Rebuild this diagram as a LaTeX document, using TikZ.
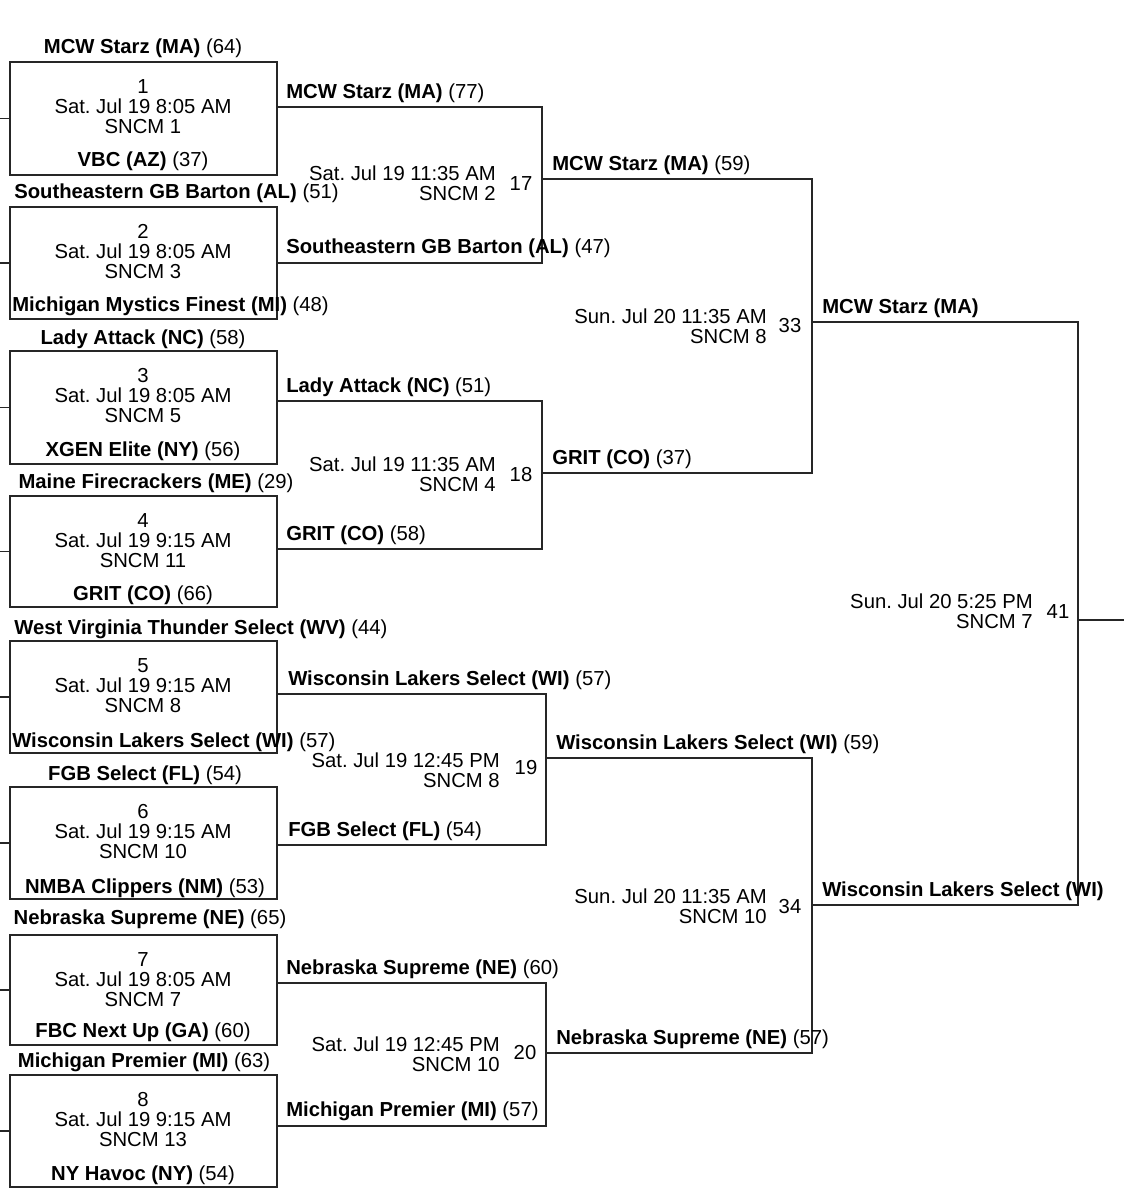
\documentclass[tikz,border=0pt]{standalone}
\usepackage{fontspec}
\setmainfont{Liberation Sans}
\frenchspacing
\begin{document}
\begin{tikzpicture}[x=0.75pt,y=-0.75pt,
  every node/.style={font=\fontsize{15.2}{15}\selectfont, inner sep=0pt},
  ln/.style={line width=1.1pt, color=black!85},
  info/.style={align=right, anchor=east},
  team/.style={anchor=south west}]
\useasboundingbox (0,0) rectangle (1124,1200);
% round 1 boxes
\foreach \i/\t/\b/\d/\s in {1/62/175/8:05 AM/1, 2/207/319/8:05 AM/3, 3/351/464/8:05 AM/5, 4/496/607/9:15 AM/11, 5/641/753/9:15 AM/8, 6/787/899/9:15 AM/10, 7/935/1045/8:05 AM/7, 8/1075/1187/9:15 AM/13}{
  \pgfmathsetmacro\h{(\b-\t)*0.75}
  \pgfmathsetmacro\m{(\b+\t)/2}
  \node[draw, ln, minimum width=200pt, minimum height=\h pt] (b\i) at (143.5,\m) {};
  \node[align=center, anchor=north] (t\i) at (143,\t+17) {\i\\Sat. Jul 19 \d\\SNCM \s};
  \coordinate (s\i) at (0,\m);
  \draw[ln] (s\i) -- (b\i.west);
}
% round 1 team names
\node (n1a) at (143,48) {\bfseries MCW Starz (MA) \mdseries(64)};
\node (n1b) at (143,161) {\bfseries VBC (AZ) \mdseries(37)};
\node[anchor=west] (n2a) at (14,193) {\bfseries Southeastern GB Barton (AL) \mdseries(51)};
\node[anchor=west] (n2b) at (12,306) {\bfseries Michigan Mystics Finest (MI) \mdseries(48)};
\node (n3a) at (143,339) {\bfseries Lady Attack (NC) \mdseries(58)};
\node (n3b) at (143,451) {\bfseries XGEN Elite (NY) \mdseries(56)};
\node (n4a) at (156,483) {\bfseries Maine Firecrackers (ME) \mdseries(29)};
\node (n4b) at (143,595) {\bfseries GRIT (CO) \mdseries(66)};
\node[anchor=west] (n5a) at (14,629) {\bfseries West Virginia Thunder Select (WV) \mdseries(44)};
\node[anchor=west] (n5b) at (12,742) {\bfseries Wisconsin Lakers Select (WI) \mdseries(57)};
\node (n6a) at (145,775) {\bfseries FGB Select (FL) \mdseries(54)};
\node (n6b) at (145,888) {\bfseries NMBA Clippers (NM) \mdseries(53)};
\node (n7a) at (150,919) {\bfseries Nebraska Supreme (NE) \mdseries(65)};
\node (n7b) at (143,1032) {\bfseries FBC Next Up (GA) \mdseries(60)};
\node (n8a) at (144,1062) {\bfseries Michigan Premier (MI) \mdseries(63)};
\node (n8b) at (143,1175) {\bfseries NY Havoc (NY) \mdseries(54)};
% round 2
\foreach \g/\ya/\yb/\x/\yo in {17/107/263/542/179, 18/401/549/542/473, 19/694/845/546/758, 20/983/1126/546/1053}{
  \coordinate (r\g a) at (277,\ya);
  \coordinate (r\g b) at (277,\yb);
  \coordinate (r\g c) at (\x,\yo);
  \draw[ln] (r\g a) -| (r\g c) |- (r\g b);
}
\node[team] (w17a) at (286,103) {\bfseries MCW Starz (MA) \mdseries(77)};
\node[team] (w17b) at (286,258) {\bfseries Southeastern GB Barton (AL) \mdseries(47)};
\node[team] (w18a) at (286,397) {\bfseries Lady Attack (NC) \mdseries(51)};
\node[team] (w18b) at (286,545) {\bfseries GRIT (CO) \mdseries(58)};
\node[team] (w19a) at (288,690) {\bfseries Wisconsin Lakers Select (WI) \mdseries(57)};
\node[team] (w19b) at (288,841) {\bfseries FGB Select (FL) \mdseries(54)};
\node[team] (w20a) at (286,979) {\bfseries Nebraska Supreme (NE) \mdseries(60)};
\node[team] (w20b) at (286,1121) {\bfseries Michigan Premier (MI) \mdseries(57)};
\node[info] (i17) at (496,183) {Sat. Jul 19 11:35 AM\\SNCM 2};
\node[info] (i18) at (496,474) {Sat. Jul 19 11:35 AM\\SNCM 4};
\node[info] (i19) at (500,770) {Sat. Jul 19 12:45 PM\\SNCM 8};
\node[info] (i20) at (500,1054) {Sat. Jul 19 12:45 PM\\SNCM 10};
\node (g17) at (521,184) {17};
\node (g18) at (521,475) {18};
\node (g19) at (526,768) {19};
\node (g20) at (525,1053) {20};
% round 3
\foreach \g/\ya/\yb/\xs/\yo in {33/179/473/542/322, 34/758/1053/546/905}{
  \coordinate (r\g a) at (\xs,\ya);
  \coordinate (r\g b) at (\xs,\yb);
  \coordinate (r\g c) at (812,\yo);
  \draw[ln] (r\g a) -| (r\g c) |- (r\g b);
}
\node[team] (w33a) at (552,175) {\bfseries MCW Starz (MA) \mdseries(59)};
\node[team] (w33b) at (552,469) {\bfseries GRIT (CO) \mdseries(37)};
\node[team] (w34a) at (556,754) {\bfseries Wisconsin Lakers Select (WI) \mdseries(59)};
\node[team] (w34b) at (556,1049) {\bfseries Nebraska Supreme (NE) \mdseries(57)};
\node[info] (i33) at (767,326) {Sun. Jul 20 11:35 AM\\SNCM 8};
\node[info] (i34) at (767,906) {Sun. Jul 20 11:35 AM\\SNCM 10};
\node (g33) at (790,326) {33};
\node (g34) at (790,907) {34};
% round 4
\coordinate (r41a) at (812,322);
\coordinate (r41b) at (812,905);
\coordinate (r41c) at (1078,620);
\coordinate (r41e) at (1124,620);
\draw[ln] (r41a) -| (r41c) |- (r41b);
\draw[ln] (r41c) -- (r41e);
\node[team] (w41a) at (822,318) {\bfseries MCW Starz (MA)};
\node[team] (w41b) at (822,901) {\bfseries Wisconsin Lakers Select (WI)};
\node[info] (i41) at (1033,611) {Sun. Jul 20 5:25 PM\\SNCM 7};
\node (g41) at (1058,612) {41};
\end{tikzpicture}
\end{document}
